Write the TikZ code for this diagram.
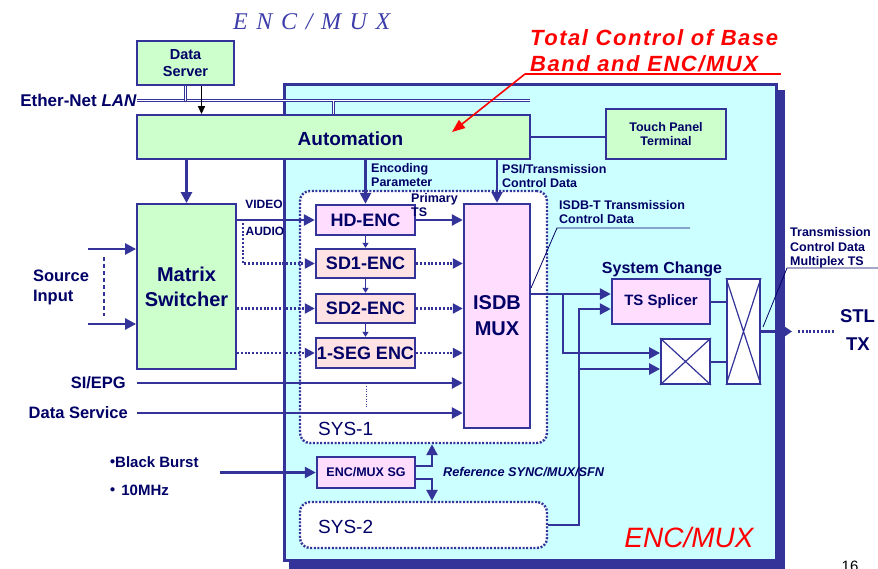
\documentclass[tikz,border=0pt]{standalone}
\usepackage{fontspec}
\setmainfont{Liberation Sans}
\newfontfamily\serifit[LetterSpace=36]{Liberation Serif}
\newfontfamily\redfont[LetterSpace=7]{Liberation Sans}
\newfontfamily\cjkdot{Noto Sans CJK JP}
\usetikzlibrary{arrows.meta}
\definecolor{navy}{RGB}{0,0,102}
\definecolor{lblue}{RGB}{51,51,153}
\definecolor{grn}{RGB}{204,255,204}
\definecolor{cyn}{RGB}{204,255,255}
\definecolor{lav}{RGB}{255,221,255}
\definecolor{pnk}{RGB}{255,226,228}
\definecolor{ttl}{RGB}{60,60,170}
\begin{document}
\begin{tikzpicture}[x=1pt,y=-1pt,
  every node/.style={text=navy, font=\bfseries, align=center, inner sep=0pt},
  fs/.style 2 args={font=\fontsize{#1}{#2}\selectfont\bfseries},
  gbox/.style={draw=lblue, fill=grn, line width=1.8pt},
  ebox/.style={draw=lblue, fill=lav, line width=2.4pt},
  pbox/.style={draw=lblue, fill=pnk, line width=2.4pt},
  xbox/.style={draw=lblue, fill=white, line width=1.8pt},
  conn/.style={draw=lblue, line width=2.5pt},
  arr/.style={conn, -{Triangle[length=11pt,width=11pt]}},
  dconn/.style={conn, line width=2.2pt, dash pattern=on 2pt off 1.8pt},
  darr/.style={dconn, -{Triangle[length=10pt,width=10pt]}},
  sarr/.style={conn, line width=1.4pt, -{Triangle[length=5pt,width=6pt]}},
  leader/.style={draw=navy, line width=0.8pt},
  dbl/.style={draw=lblue, double=white, double distance=1.5pt, line width=0.8pt},
  sysbox/.style={draw=lblue, fill=white, line width=2.4pt, dash pattern=on 2pt off 1.6pt, rounded corners=10pt},
]
\useasboundingbox (0,0) rectangle (878,568);
% main frame with shadow
\fill[lblue] (289,90) rectangle (785,575);
\draw[lblue, line width=3pt, fill=cyn] (284,84) rectangle (776,560);

% dotted system boxes
\node[sysbox, minimum width=247pt, minimum height=252pt] (sys1) at (423.5,317) {};
\node[sysbox, minimum width=247pt, minimum height=46pt] (sys2) at (423.5,525) {};
\node[font=\fontsize{19}{21}\selectfont, anchor=west] (sys1t) at (318,429) {SYS-1};
\node[font=\fontsize{19}{21}\selectfont, anchor=west] (sys2t) at (318,527) {SYS-2};

% boxes
\node[gbox, minimum width=97pt, minimum height=44pt, fs={14.5}{16.5}] (ds) at (185.5,63) {Data\\Server};
\node[gbox, minimum width=393pt, minimum height=44pt] (auto) at (333.5,137) {};
\node[fs={19}{22}] (autot) at (350.5,139) {Automation};
\node[gbox, line width=1.4pt, minimum width=120pt, minimum height=50pt, fs={12.5}{14.5}] (tp) at (666,134) {Touch Panel\\Terminal};
\node[gbox, minimum width=99pt, minimum height=165pt, fs={20}{25}] (ms) at (186.5,286.5) {Matrix\\Switcher};
\node[ebox, minimum width=99pt, minimum height=30pt, fs={18}{20}] (hd) at (365.5,220) {HD-ENC};
\node[pbox, minimum width=99pt, minimum height=29pt, fs={18}{20}] (sd1) at (365.5,263.5) {SD1-ENC};
\node[pbox, minimum width=99pt, minimum height=29pt, fs={18}{20}] (sd2) at (365.5,308.5) {SD2-ENC};
\node[pbox, minimum width=99pt, minimum height=30pt, fs={18}{20}] (seg) at (365.5,353) {1-SEG ENC};
\node[ebox, minimum width=66pt, minimum height=224pt, fs={20}{26}] (mux) at (497,316) {ISDB\\MUX};
\node[ebox, minimum width=98pt, minimum height=31pt, fs={12.5}{14}] (sg) at (366,472.5) {ENC/MUX SG};
\node[ebox, minimum width=98pt, minimum height=45pt, fs={15}{17}] (tss) at (661,301.5) {TS Splicer};
\node[xbox, minimum width=49pt, minimum height=45pt] (cx1) at (685.5,361.5) {};
\node[xbox, minimum width=33pt, minimum height=105pt] (cx2) at (743.5,331.5) {};
\draw[lblue, line width=1.2pt] (cx1.north west) -- (cx1.south east) (cx1.north east) -- (cx1.south west);
\draw[lblue, line width=1.2pt] (cx2.north west) -- (cx2.south east) (cx2.north east) -- (cx2.south west);

% coordinates
\coordinate (lanL) at (137,100.7);
\coordinate (lanR) at (530,100.7);
\coordinate (si1) at (88,249);
\coordinate (si2) at (88,324);
\coordinate (dsh1) at (104,257);
\coordinate (dsh2) at (104,316);
\coordinate (au) at (243,223);
\coordinate (sie) at (137,383);
\coordinate (dse) at (137,413);
\coordinate (vd1) at (366,386);
\coordinate (vd2) at (366,407);
\coordinate (mo) at (530,294);
\coordinate (b1) at (563,294);
\coordinate (v2) at (579,309);
\coordinate (b2) at (579,369);
\coordinate (outtip) at (792,331.5);
\coordinate (dotA) at (798,331.5);
\coordinate (dotB) at (834,331.5);
\coordinate (bb) at (220,472.5);
\coordinate (ra) at (525,74);
\coordinate (rb) at (452,132);
\coordinate (rc) at (781,74);

% LAN
\draw[dbl] (lanL) -- (lanR);
\draw[dbl] (ds.south) -- (ds.south |- lanL);
\draw[dbl] (auto.north |- lanL) -- (auto.north);
\draw[black, line width=1.4pt, -{Triangle[length=8pt,width=7pt]}] ([xshift=16pt]ds.south) -- ([xshift=16pt]ds.south |- auto.north);

% automation outputs
\draw[arr] (ms.north |- auto.south) -- (ms.north);
\draw[arr] (hd.north |- auto.south) -- (hd.north);
\draw[arr] (mux.north |- auto.south) -- (mux.north);
\draw[conn, line width=1.8pt] (auto.east) -- (auto.east -| tp.west);

% source inputs
\draw[arr] (si1) -- (si1 -| ms.west);
\draw[arr] (si2) -- (si2 -| ms.west);
\draw[lblue, line width=1.4pt, dash pattern=on 4pt off 3pt] (dsh1) -- (dsh2);

% matrix to encoders
\draw[arr] (ms.east |- hd.west) -- (hd.west);
\draw[darr] (au) |- (sd1.west);
\draw[darr] (ms.east |- sd2.west) -- (sd2.west);
\draw[darr] (ms.east |- seg.west) -- (seg.west);

% encoder chain
\draw[sarr] (hd.south) -- (sd1.north);
\draw[sarr] (sd1.south) -- (sd2.north);
\draw[sarr] (sd2.south) -- (seg.north);

% encoders to mux
\draw[arr] (hd.east) -- (hd.east -| mux.west);
\draw[darr] (sd1.east) -- (sd1.east -| mux.west);
\draw[darr] (sd2.east) -- (sd2.east -| mux.west);
\draw[darr] (seg.east) -- (seg.east -| mux.west);
\draw[arr] (sie) -- (sie -| mux.west);
\draw[arr] (dse) -- (dse -| mux.west);
\draw[lblue, line width=0.8pt, dash pattern=on 1pt off 1.5pt] (vd1) -- (vd2);

% mux output side
\draw[arr] (mo) -- (mo -| tss.west);
\draw[arr] (b1) |- ([yshift=8.5pt]cx1.west);
\draw[arr] (sys2.east) -| (v2) -- ([yshift=-7.5pt]tss.west);
\draw[arr] (b2) -- ([yshift=-7.5pt]cx1.west);
\draw[conn, line width=2pt] (tss.east) -- (tss.east -| cx2.west);
\draw[conn, line width=2pt] (cx1.east) -- (cx1.east -| cx2.west);
\draw[conn, -{Triangle[length=7pt,width=9pt]}] (cx2.east) -- (outtip);
\draw[dconn] (dotA) -- (dotB);

% leaders
\draw[leader] (690,228) -- (557,228) -- (531,288);
\draw[leader] (878,268) -- (787,268) -- (763,327);

% sync generator
\draw[arr] (bb) -- (sg.west);
\draw[arr] ([yshift=6.5pt]sg.east) -| ([xshift=8.5pt]sys1.south);
\draw[arr] ([yshift=-6.5pt]sg.east) -| ([xshift=8.5pt]sys2.north);

% red annotation
\draw[red, line width=1.6pt] (ra) -- (rc);
\draw[red, line width=1.6pt, -{Triangle[length=13pt,width=10pt]}] (ra) -- (rb);
\node[text=red, font=\fontsize{22}{25}\selectfont\redfont\bfseries\itshape, anchor=base west] (rt1) at (530,45) {Total Control of Base};
\node[text=red, font=\fontsize{22}{25}\selectfont\redfont\bfseries\itshape, anchor=base west] (rt2) at (530,71) {Band and ENC/MUX};

% labels
\node[text=ttl, font=\fontsize{24}{26}\selectfont\serifit\itshape, anchor=base west] (title) at (233,29) {ENC/MUX};
\node[fs={17}{19}, anchor=east] (lan) at (137,100) {Ether-Net \textit{LAN}};
\node[fs={12.5}{14}, align=left, anchor=west] (encp) at (371,175) {Encoding\\Parameter};
\node[fs={12.5}{14}, align=left, anchor=west] (psi) at (502,176.5) {PSI/Transmission\\Control Data};
\node[fs={12.5}{14.5}, align=left, anchor=west] (prim) at (411,205) {Primary\\TS};
\node[fs={12}{14}] (video) at (264,204) {VIDEO};
\node[fs={12}{14}] (audio) at (265,231) {AUDIO};
\node[fs={16.5}{20}, align=left] (srcin) at (61,287) {Source\\Input};
\node[fs={16.5}{19}, anchor=east] (siepg) at (126,383) {SI/EPG};
\node[fs={16.5}{19}, anchor=east] (dserv) at (128,413) {Data Service};
\node[fs={12.5}{14}, align=left, anchor=west] (isdbt) at (559,212.5) {ISDB-T Transmission\\Control Data};
\node[fs={12.5}{14.5}, align=left, anchor=west] (tcd) at (790,248) {Transmission\\Control Data\\Multiplex TS};
\node[fs={16}{18}] (sysch) at (662,269.5) {System Change};
\node[fs={18.5}{20}] (stl) at (857.5,316.5) {STL};
\node[fs={18.5}{20}] (tx) at (858,344.5) {TX};
\node[fs={15}{17}, anchor=west] (bbt) at (105,462) {{\cjkdot ・}\hspace{-5pt}Black Burst};
\node[fs={15}{17}, anchor=west] (mhz) at (105,490) {{\cjkdot ・}\hspace{-3pt} 10MHz};
\node[font=\fontsize{12.7}{14}\selectfont\bfseries\itshape, anchor=west] (refs) at (443,472) {Reference SYNC/MUX/SFN};
\node[text=red, font=\fontsize{28}{30}\selectfont\itshape] (encmux) at (689,537) {ENC/MUX};
\node[text=black, font=\fontsize{15}{17}\selectfont, anchor=base] (pg) at (850,571) {16};
\end{tikzpicture}
\end{document}
